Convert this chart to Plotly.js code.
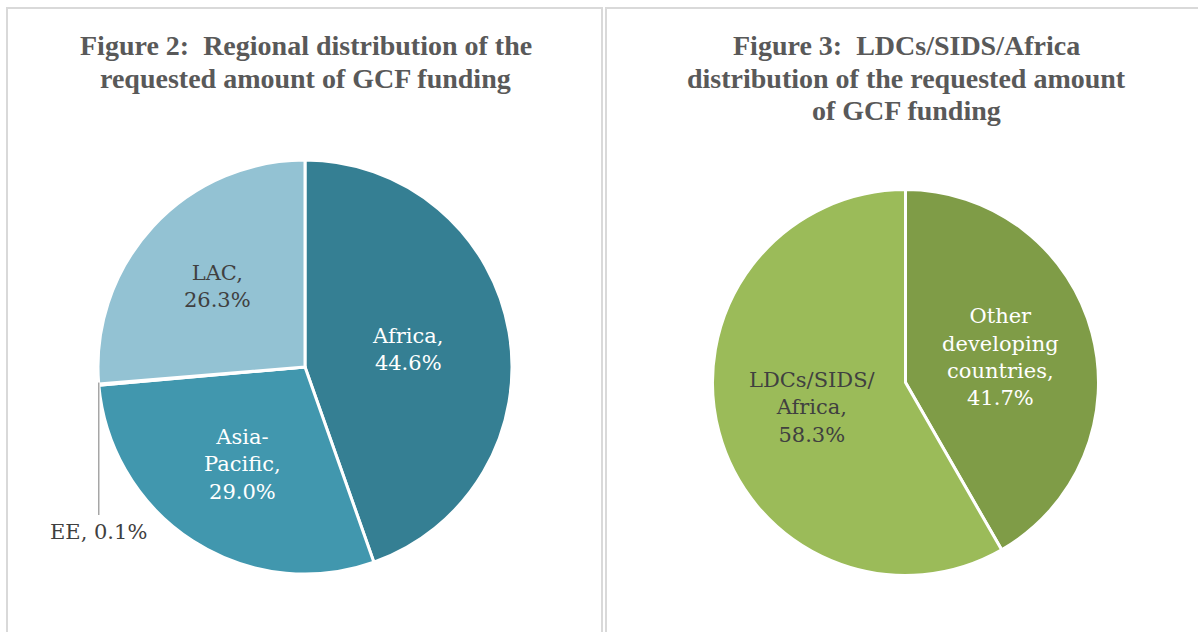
<!DOCTYPE html>
<html>
<head>
<meta charset="utf-8">
<script src="https://cdn.plot.ly/plotly-3.0.1.min.js"></script>
<style>html,body{margin:0;padding:0;background:#fff;}#chart{width:1198px;height:632px;}</style>
</head>
<body>
<div id="chart"></div>
<script>
// Figure 2 data
const regionLabels = ['Africa', 'Asia-Pacific', 'EE', 'LAC'];
const regionText = ['Africa,', 'Asia-<br>Pacific,', 'EE,', 'LAC,'];
const regionValues = [44.6, 29.0, 0.1, 26.3];
const regionColors = ['#357f93', '#4197ae', '#8fb3c4', '#93c2d3'];
const regionTextColors = ['#ffffff', '#ffffff', '#404040', '#404040'];
const title1Lines = ['Figure 2:  Regional distribution of the', 'requested amount of GCF funding'];

// Figure 3 data
const groupLabels = ['Other developing countries', 'LDCs/SIDS/Africa'];
const groupText = ['Other<br>developing<br>countries,', 'LDCs/SIDS/<br>Africa,'];
const groupValues = [41.7, 58.3];
const groupColors = ['#7f9c47', '#9bbb59'];
const groupTextColors = ['#ffffff', '#404040'];
const title2Lines = ['Figure 3:  LDCs/SIDS/Africa', 'distribution of the requested amount', 'of GCF funding'];

const W = 1198, H = 632;
const serif = '"DejaVu Serif", serif';
const titleFont = {family: '"Liberation Serif", serif', size: 28, color: '#595959'};

// pie geometry in pixels (center & radius)
const pie1 = {cx: 305, cy: 367, r: 207};
const pie2 = {cx: 905.5, cy: 382.5, r: 193};
function dom(p) {
  return {
    x: [(p.cx - p.r) / W, (p.cx + p.r) / W],
    y: [1 - (p.cy + p.r) / H, 1 - (p.cy - p.r) / H]
  };
}

const tiny = regionValues.map(v => v < 1);
const trace1 = {
  type: 'pie', labels: regionLabels, values: regionValues, text: regionText,
  sort: false, direction: 'clockwise', rotation: 0,
  domain: dom(pie1),
  marker: {colors: regionColors, line: {color: '#ffffff', width: 3}},
  textposition: tiny.map(t => t ? 'none' : 'inside'),
  texttemplate: '%{text}<br>%{percent:.1%}',
  insidetextorientation: 'horizontal',
  textfont: {family: serif, size: 21, color: regionTextColors},
  hoverinfo: 'label+percent', showlegend: false
};
const trace2 = {
  type: 'pie', labels: groupLabels, values: groupValues, text: groupText,
  sort: false, direction: 'clockwise', rotation: 0,
  domain: dom(pie2),
  marker: {colors: groupColors, line: {color: '#ffffff', width: 3}},
  textposition: 'inside',
  texttemplate: '%{text}<br>%{percent:.1%}',
  insidetextorientation: 'horizontal',
  textfont: {family: serif, size: 21, color: groupTextColors},
  hoverinfo: 'label+percent', showlegend: false
};

// leader line for the tiny EE slice, derived from its angle
const total1 = regionValues.reduce((a, b) => a + b, 0);
const eeIdx = regionLabels.indexOf('EE');
const before = regionValues.slice(0, eeIdx).reduce((a, b) => a + b, 0);
const midFrac = (before + regionValues[eeIdx] / 2) / total1;
const ang = midFrac * 2 * Math.PI;
const rimX = pie1.cx + pie1.r * Math.sin(ang);
const rimY = pie1.cy - pie1.r * Math.cos(ang);
const lineEndY = 515;

const shapes = [
  {type: 'rect', xref: 'paper', yref: 'paper', x0: 7 / W, x1: 602 / W, y0: -0.05, y1: 1 - 8 / H,
   line: {color: '#d9d9d9', width: 2}, fillcolor: 'rgba(0,0,0,0)', layer: 'below'},
  {type: 'rect', xref: 'paper', yref: 'paper', x0: 606 / W, x1: 1.05, y0: -0.05, y1: 1 - 8 / H,
   line: {color: '#d9d9d9', width: 2}, fillcolor: 'rgba(0,0,0,0)', layer: 'below'},
  {type: 'line', xref: 'paper', yref: 'paper', x0: rimX / W, x1: rimX / W,
   y0: 1 - (rimY - 2) / H, y1: 1 - lineEndY / H, line: {color: '#a6a6a6', width: 1.5}}
];

const annotations = [];
function addTitle(lines, cx) {
  lines.forEach((ln, i) => {
    annotations.push({text: '<b>' + ln + '</b>', xref: 'paper', yref: 'paper',
      x: cx / W, y: 1 - (46 + 32 * i) / H, xanchor: 'center', yanchor: 'middle',
      showarrow: false, font: titleFont});
  });
}
addTitle(title1Lines, 305.5);
addTitle(title2Lines, 906);
annotations.push({text: regionText[eeIdx] + ' ' + (regionValues[eeIdx] / total1 * 100).toFixed(1) + '%',
  xref: 'paper', yref: 'paper', x: rimX / W, y: 1 - (lineEndY + 3) / H, xanchor: 'center', yanchor: 'top',
  showarrow: false, font: {family: serif, size: 21, color: '#404040'}});

const layout = {
  width: W, height: H,
  margin: {l: 0, r: 0, t: 0, b: 0},
  paper_bgcolor: '#ffffff',
  shapes: shapes,
  annotations: annotations,
  showlegend: false
};

Plotly.newPlot('chart', [trace1, trace2], layout, {displayModeBar: false, staticPlot: true});
</script>
</body>
</html>
